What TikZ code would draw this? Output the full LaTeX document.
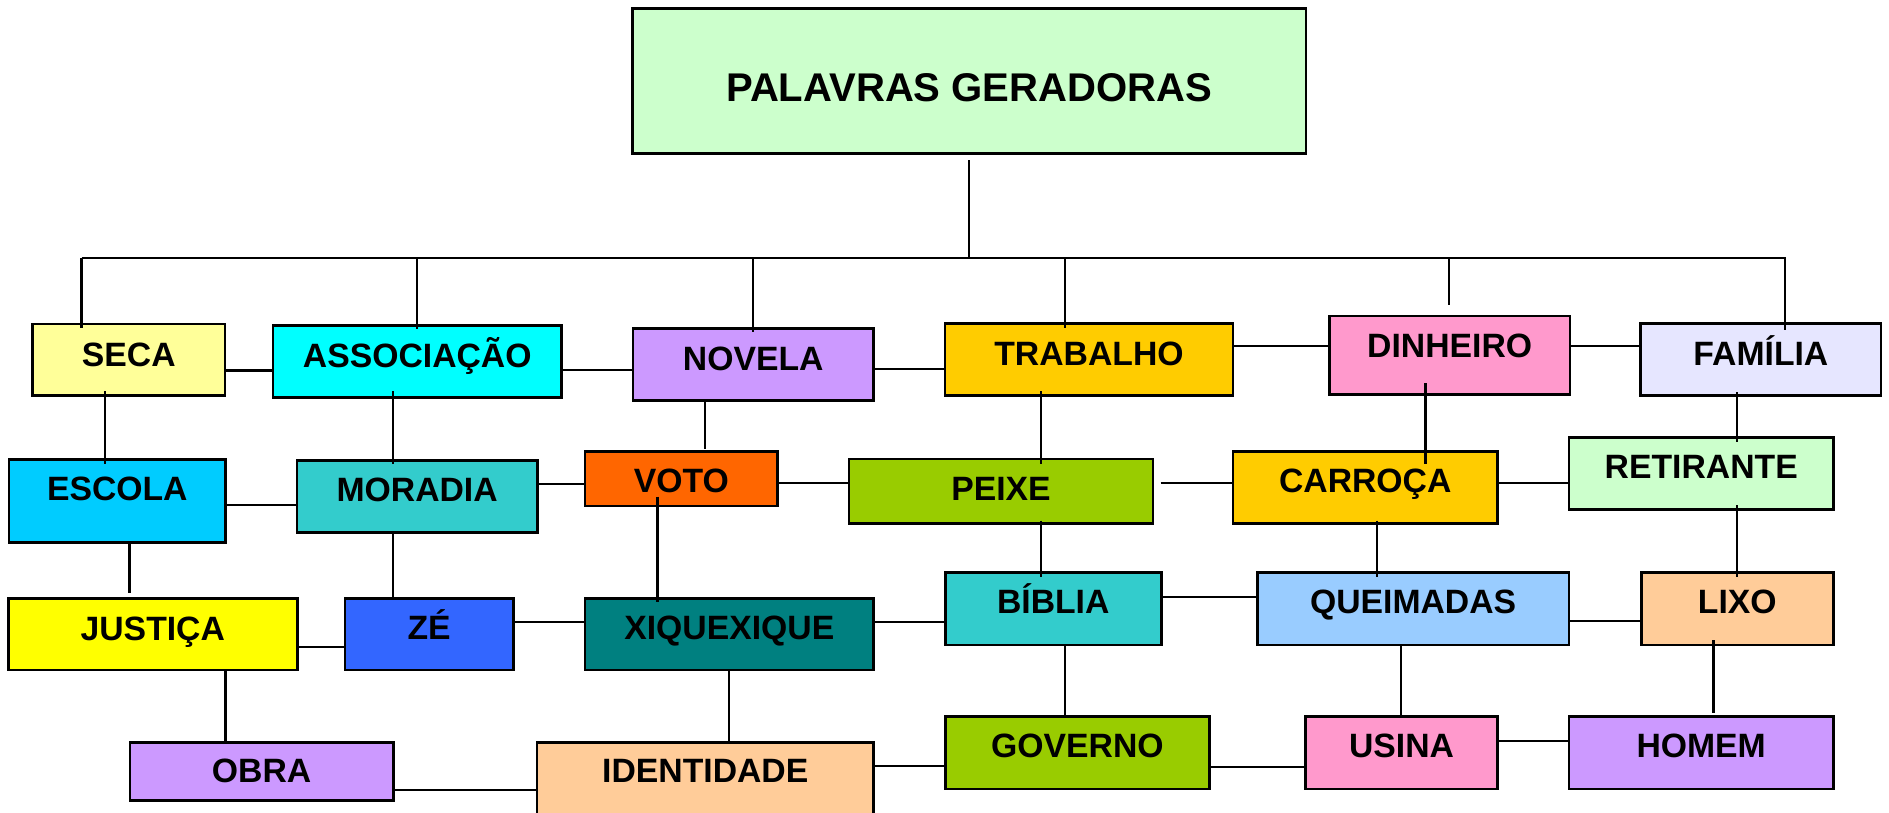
\documentclass[tikz,border=0pt]{standalone}
\usepackage{fontspec}
\setmainfont{Liberation Sans}
\definecolor{cPaleGreen}{HTML}{CCFFCC}
\definecolor{cPaleYellow}{HTML}{FFFF99}
\definecolor{cAqua}{HTML}{00FFFF}
\definecolor{cLilac}{HTML}{CC99FF}
\definecolor{cGold}{HTML}{FFCC00}
\definecolor{cPink}{HTML}{FF99CC}
\definecolor{cLavender}{HTML}{E6E6FF}
\definecolor{cSky}{HTML}{00CCFF}
\definecolor{cTeal}{HTML}{33CCCC}
\definecolor{cOrange}{HTML}{FF6600}
\definecolor{cOlive}{HTML}{99CC00}
\definecolor{cYellow}{HTML}{FFFF00}
\definecolor{cBlue}{HTML}{3366FF}
\definecolor{cDarkTeal}{HTML}{008080}
\definecolor{cPaleBlue}{HTML}{99CCFF}
\definecolor{cPeach}{HTML}{FFCC99}
\tikzset{
  box/.style={draw, line width=0.75pt, inner sep=0pt, outer sep=0pt},
  word/.style={font=\bfseries\fontsize{9.6}{11}\selectfont, anchor=base, inner sep=0pt},
  link/.style={line width=0.65pt}
}
\begin{document}
\begin{tikzpicture}[x=0.1mm,y=-0.1mm]
\useasboundingbox (0,0) rectangle (1889,812);
\clip (0,0) rectangle (1889,812);
% Draw the title
\node[box, fill=cPaleGreen, minimum width=67.35mm, minimum height=14.5mm] (titulo) at (969.25,80.8) {};
\node[word, font=\bfseries\fontsize{11.4}{13}\selectfont] (titulo-t) at (969.25,101.7) {PALAVRAS GERADORAS};
% Draw the words: name/left/right/top/bottom/colour/baseline/text
\foreach \n/\l/\r/\t/\b/\c/\bl/\txt in {
 seca/32.7/225/324/395.5/cPaleYellow/366/SECA,
 assoc/273/561.5/325.3/397.3/cAqua/367.5/ASSOCIAÇÃO,
 novela/633/873.4/328.3/400.7/cLilac/370.7/NOVELA,
 trabalho/945/1233/323.7/395.7/cGold/365/TRABALHO,
 dinheiro/1329.4/1570/316/394.3/cPink/357.7/DINHEIRO,
 familia/1640.7/1881/323.7/395.3/cLavender/365/FAMÍLIA,
 escola/9/225.6/459.3/542.7/cSky/500.7/ESCOLA,
 moradia/297/537.3/460.7/532.7/cTeal/501.7/MORADIA,
 voto/585/777.5/451.3/506/cOrange/492.3/VOTO,
 peixe/849/1153/459/523.7/cOlive/500.7/PEIXE,
 carroca/1233/1497.5/451.3/523.7/cGold/492.7/CARROÇA,
 retirante/1569/1833.5/437.3/509.3/cPaleGreen/478.3/RETIRANTE,
 justica/8.3/297.3/598.3/670/cYellow/640/JUSTIÇA,
 ze/345/513.3/598.3/670/cBlue/639.5/ZÉ,
 xique/585/873.5/598.3/670/cDarkTeal/639.3/XIQUEXIQUE,
 biblia/945.3/1161.2/572.7/645/cTeal/613.3/BÍBLIA,
 queimadas/1257.2/1569/572.7/645/cPaleBlue/613.3/QUEIMADAS,
 lixo/1641.3/1833.3/572.7/645/cPeach/613.3/LIXO,
 obra/130/393.3/742.3/800.3/cLilac/782.7/OBRA,
 identidade/537/873.5/742.3/830/cPeach/782.7/IDENTIDADE,
 governo/945.3/1209.5/716.7/789/cOlive/757.3/GOVERNO,
 usina/1305.5/1497.6/716.7/789/cPink/757.3/USINA,
 homem/1569/1833.3/716.7/789/cLilac/757.3/HOMEM}
{
\node[box, fill=\c, minimum width={(\r-\l)*0.1mm}, minimum height={(\b-\t)*0.1mm}] (\n) at ({(\l+\r)/2},{(\t+\b)/2}) {};
\node[word] (\n-t) at ({(\l+\r)/2},\bl) {\txt};
}
% Draw the tree below the title
\coordinate (busL) at (81.6,258.3);
\coordinate (busR) at (1785,258.3);
\coordinate (dinTop) at (1449,304.7);
\draw[link, shorten <=0.7mm] (titulo.south) -- (titulo.south |- busL);
\draw[link, shorten >=-0.67mm] (busL) -- (busR) -- (busR |- familia.north);
\foreach \b/\x in {seca/81.6, assoc/417, novela/753, trabalho/1065}
\draw[link, shorten >=-0.4mm] (busL -| \x,0) -- (\b.north -| \x,0);
\draw[link] (busL -| dinTop) -- (dinTop);
% Draw the vertical links: upper/lower/x/into upper/into lower
\foreach \a/\b/\x/\s/\e in {
 seca/escola/105/4.5/4.7, assoc/moradia/393/6/3.3, novela/voto/705/0/-2.3,
 trabalho/peixe/1041/4.7/5, dinheiro/carroca/1425.4/11/12.7, familia/retirante/1737/3.3/4.4,
 escola/justica/129.5/0/-5, moradia/ze/393/0/0, voto/xique/657.6/9.3/3.4,
 peixe/biblia/1041/3/4.6, carroca/queimadas/1377/3/4.3, retirante/lixo/1737/4.3/4.3,
 justica/obra/225.4/0/0, xique/identidade/729/0/0, biblia/governo/1065.2/0/0,
 queimadas/usina/1401/0/0, lixo/homem/1713.4/5/-3.4}
\draw[link, shorten <={-0.1mm*(\s)}, shorten >={-0.1mm*(\e)}] (\a.south -| \x,0) -- (\b.north -| \x,0);
% Draw the horizontal links: left/right/y
\foreach \a/\b/\y in {
 seca/assoc/370.5, assoc/novela/370, novela/trabalho/369.3, trabalho/dinheiro/345.7,
 dinheiro/familia/345.7, escola/moradia/505, moradia/voto/483.8, voto/peixe/483.3,
 carroca/retirante/483.3, justica/ze/646.7, ze/xique/622, xique/biblia/622,
 biblia/queimadas/596.7, queimadas/lixo/620.7, obra/identidade/790,
 identidade/governo/766.2, governo/usina/766.7, usina/homem/741}
\draw[link] (\a.east |- 0,\y) -- (\b.west |- 0,\y);
\draw[link, shorten <=0.76mm] (peixe.east |- 0,483.3) -- (carroca.west |- 0,483.3);
\end{tikzpicture}
\end{document}
